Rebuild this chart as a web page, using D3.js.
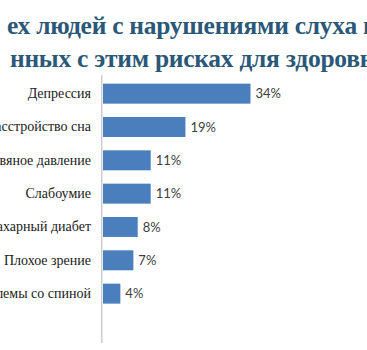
<!DOCTYPE html>
<html>
<head>
<meta charset="utf-8">
<script src="https://cdn.jsdelivr.net/npm/d3@7"></script>
<style>
  html, body { margin: 0; padding: 0; background: #fff; overflow: hidden; }
  svg { display: block; }
</style>
</head>
<body>
<svg id="chart" width="367" height="350"></svg>
<script>
// Title fragments (two lines)
const titleLines = [
  "ех людей с нарушениями слуха н",
  "нных с этим рисках для здоровь"
];

// Health risks and share of people reporting them (%)
const categories = [
  "Депрессия",
  "Расстройство сна",
  "Высокое кровяное давление",
  "Слабоумие",
  "Сахарный диабет",
  "Плохое зрение",
  "Проблемы со спиной"
];
const values = [34, 19, 11, 11, 8, 7, 4];
const valueLabels = ["34%", "19%", "11%", "11%", "8%", "7%", "4%"];

const svg = d3.select("#chart");

const x = d3.scaleLinear().domain([0, 34]).range([103, 250.5]);
const y = d3.scaleBand()
  .domain(categories)
  .range([77, 310.3])
  .paddingInner(0.4)
  .paddingOuter(0.2);

// Title
const titleSize = 25.5;
const titleG = svg.append("g")
  .attr("font-family", "'Liberation Serif', 'Times New Roman', serif")
  .attr("font-weight", "bold")
  .attr("font-size", titleSize)
  .attr("fill", "#2b5878");

const t1 = titleG.append("text")
  .attr("x", 7).attr("y", 34)
  .text(titleLines[0]);
// adjust the tracking so the first line's words reach the right edge
const n1 = titleLines[0].length - 1;
const w1 = t1.node().getSubStringLength(0, n1);
const tracking = (356 - w1) / n1;
t1.attr("letter-spacing", tracking);

titleG.append("text")
  .attr("x", 10).attr("y", 66.5)
  .attr("letter-spacing", tracking)
  .text(titleLines[1]);

// Vertical category axis line
svg.append("line")
  .attr("x1", x(0) - 1.3).attr("x2", x(0) - 1.3)
  .attr("y1", 75).attr("y2", 343)
  .attr("stroke", "#cdcdcd")
  .attr("stroke-width", 1.5);

// Category labels
const yAxis = d3.axisLeft(y).tickSize(0).tickPadding(10.5);
const axisG = svg.append("g")
  .attr("transform", `translate(${x(0) - 1.5},0)`)
  .call(yAxis);
axisG.select(".domain").remove();
axisG.selectAll("text")
  .attr("font-family", "'Liberation Serif', 'Times New Roman', serif")
  .attr("font-size", 14)
  .attr("fill", "#1a1a1a");

// Bars
svg.append("g").selectAll("rect")
  .data(categories)
  .join("rect")
  .attr("x", x(0))
  .attr("y", d => y(d))
  .attr("width", (d, i) => x(values[i]) - x(0))
  .attr("height", y.bandwidth())
  .attr("fill", "#4a7ebd");

// Value labels
svg.append("g").selectAll("text")
  .data(categories)
  .join("text")
  .attr("x", (d, i) => x(values[i]) + 5)
  .attr("y", d => y(d) + y.bandwidth() / 2)
  .attr("dy", "0.36em")
  .attr("font-family", "Lato, 'Open Sans', sans-serif")
  .attr("font-size", 13)
  .attr("fill", "#404040")
  .text((d, i) => valueLabels[i]);
</script>
</body>
</html>
